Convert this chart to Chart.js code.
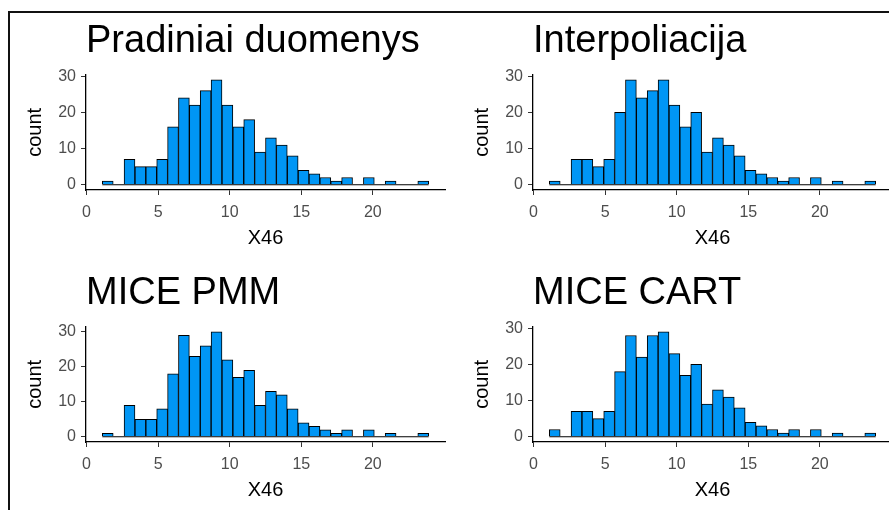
<!DOCTYPE html>
<html>
<head>
<meta charset="utf-8">
<script src="https://cdn.jsdelivr.net/npm/chart.js@4.4.1/dist/chart.umd.min.js"></script>
<style>
  html, body { margin: 0; padding: 0; background: #fff; overflow: hidden; }
  #wrap { position: relative; width: 889px; height: 510px; overflow: hidden; }
  #frame { position: absolute; left: 8px; top: 11px; width: 900px; height: 520px; border: 2px solid #111; }
  canvas { position: absolute; }
</style>
</head>
<body>
<div id="wrap">
  <div id="frame"></div>
  <canvas id="c1" width="448" height="255" style="left:0px;top:0px"></canvas>
  <canvas id="c2" width="448" height="255" style="left:447px;top:0px"></canvas>
  <canvas id="c3" width="448" height="255" style="left:0px;top:252px"></canvas>
  <canvas id="c4" width="448" height="255" style="left:447px;top:252px"></canvas>
</div>
<script>
// histogram bin centres (30 bins, width 0.76)
var binMids = [1.48, 2.24, 3.00, 3.76, 4.52, 5.28, 6.04, 6.80, 7.56, 8.32,
               9.08, 9.84, 10.60, 11.36, 12.12, 12.88, 13.64, 14.40, 15.16, 15.92,
               16.68, 17.44, 18.20, 18.96, 19.72, 20.48, 21.24, 22.00, 22.76, 23.52];
var binWidth = 0.76;

var pradiniai      = [1, 0, 7, 5, 5, 7, 16, 24, 22, 26, 29, 22, 16, 18, 9, 13, 11, 8, 4, 3, 2, 1, 2, 0, 2, 0, 1, 0, 0, 1];
var interpoliacija = [1, 0, 7, 7, 5, 7, 20, 29, 24, 26, 29, 22, 16, 20, 9, 13, 11, 8, 4, 3, 2, 1, 2, 0, 2, 0, 1, 0, 0, 1];
var micePmm        = [1, 0, 9, 5, 5, 8, 18, 29, 23, 26, 30, 22, 17, 19, 9, 13, 12, 8, 4, 3, 2, 1, 2, 0, 2, 0, 1, 0, 0, 1];
var miceCart       = [2, 0, 7, 7, 5, 7, 18, 28, 22, 28, 29, 23, 17, 20, 9, 13, 11, 8, 4, 3, 2, 1, 2, 0, 2, 0, 1, 0, 0, 1];

var xTicks = [0, 5, 10, 15, 20];
var yTicks = [0, 10, 20, 30];

var FONT = "'Liberation Sans', Arial, sans-serif";
var barFill = '#0096F5';
Chart.defaults.font.family = FONT;

function makeHist(canvasId, titleText, counts) {
    var half = binWidth / 2;
    var lo = binMids[0] - half, hi = binMids[binMids.length - 1] + half;
    var pad = (hi - lo) * 0.05;
    var top = Math.max.apply(null, counts);
    var ctx = document.getElementById(canvasId).getContext('2d');

    return new Chart(ctx, {
        type: 'bar',
        data: {
            datasets: [{
                // baseline under empty bins
                type: 'line',
                data: [{x: lo, y: 0}, {x: hi, y: 0}],
                borderColor: '#000',
                borderWidth: 1,
                pointRadius: 0,
                order: 0
            }, {
                data: binMids.map(function (m, i) { return {x: m, y: counts[i]}; }),
                backgroundColor: barFill,
                borderColor: '#000',
                borderWidth: 1,
                barPercentage: 1,
                categoryPercentage: 1,
                order: 1
            }]
        },
        options: {
            responsive: false,
            animation: false,
            layout: {padding: {left: 0, right: 3, top: 0, bottom: 5}},
            plugins: {
                legend: {display: false},
                tooltip: {enabled: false},
                title: {
                    display: true,
                    text: titleText,
                    align: 'start',
                    fullSize: false,
                    color: '#000',
                    font: {size: 38, weight: 'normal'},
                    padding: {top: 19, bottom: 10}
                }
            },
            scales: {
                x: {
                    type: 'linear',
                    offset: false,
                    min: lo - pad,
                    max: hi + pad,
                    afterBuildTicks: function (scale) {
                        scale.ticks = xTicks.map(function (v) { return {value: v}; });
                    },
                    afterFit: function (scale) { scale.height = 60; },
                    grid: {offset: false, drawOnChartArea: false, drawTicks: true, tickLength: 5, color: '#333'},
                    border: {display: true, color: '#000', width: 1.3},
                    ticks: {autoSkip: false, maxRotation: 0, padding: 8, color: '#4D4D4D', font: {size: 16}},
                    title: {display: true, text: 'X46', color: '#000', font: {size: 20}, padding: {top: 0, bottom: 0}}
                },
                y: {
                    min: -top * 0.05,
                    max: top * 1.05,
                    afterBuildTicks: function (scale) {
                        scale.ticks = yTicks.map(function (v) { return {value: v}; });
                    },
                    afterFit: function (scale) { scale.width = 86; },
                    grid: {drawOnChartArea: false, drawTicks: true, tickLength: 5, color: '#333'},
                    border: {display: true, color: '#000', width: 1.3},
                    ticks: {autoSkip: false, padding: 5, color: '#4D4D4D', font: {size: 16}},
                    title: {display: true, text: 'count', color: '#000', font: {size: 20}, padding: {top: 23, bottom: 0}}
                }
            }
        }
    });
}

makeHist('c1', 'Pradiniai duomenys', pradiniai);
makeHist('c2', 'Interpoliacija', interpoliacija);
makeHist('c3', 'MICE PMM', micePmm);
makeHist('c4', 'MICE CART', miceCart);
</script>
</body>
</html>
